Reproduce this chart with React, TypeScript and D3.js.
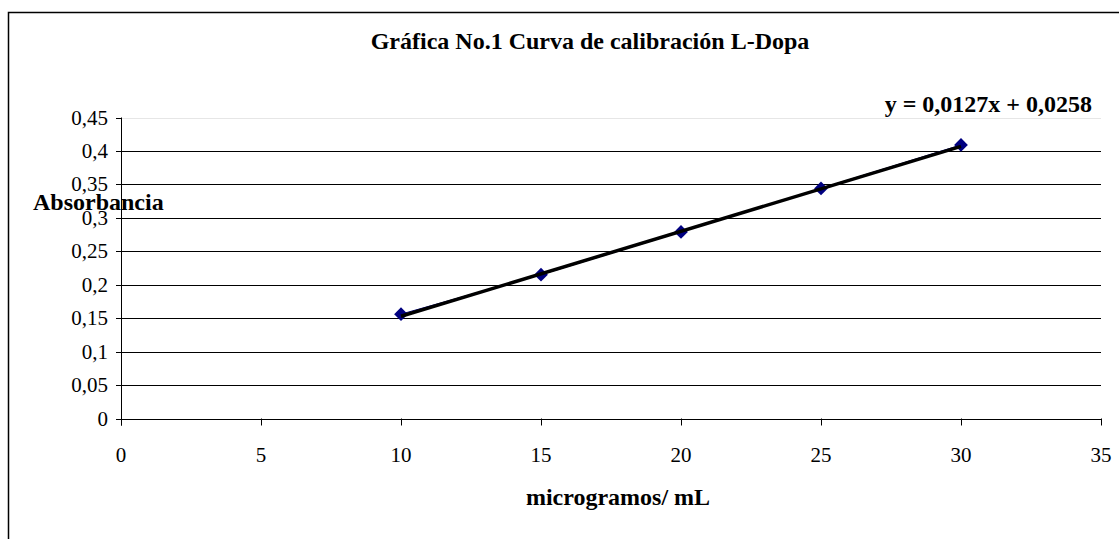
import React from "react";
import * as d3 from "d3";

const concentrations = [10, 15, 20, 25, 30];
const absorbances = [0.156, 0.215, 0.279, 0.344, 0.409];
const trendSlope = 0.0127;
const trendIntercept = 0.0258;
const xTicks = [0, 5, 10, 15, 20, 25, 30, 35];
const yTicks = [0, 0.05, 0.1, 0.15, 0.2, 0.25, 0.3, 0.35, 0.4, 0.45];
const titleText = "Gráfica No.1 Curva de calibración L-Dopa";
const xLabel = "microgramos/ mL";
const yLabel = "Absorbancia";
const equationText = "y = 0,0127x + 0,0258";

const W = 1119;
const H = 539;
const FONT = "'Liberation Serif', 'Times New Roman', serif";

export default function App() {
  const x = d3.scaleLinear().domain([0, 35]).range([121, 1101]);
  const y = d3.scaleLinear().domain([0, 0.45]).range([418.5, 117.5]);
  const fmt = (v: number) => String(+v.toFixed(2)).replace(".", ",");
  const pts = concentrations.map((c, i) => [x(c), y(absorbances[i])] as [number, number]);
  const line = d3.line();
  const xMin = d3.min(concentrations)!;
  const xMax = d3.max(concentrations)!;
  const trend: [number, number][] = [
    [x(xMin), y(trendSlope * xMin + trendIntercept)],
    [x(xMax), y(trendSlope * xMax + trendIntercept)],
  ];
  const diamond = d3.symbol().type(d3.symbolDiamond2).size(120)();

  return (
    <svg
      width={W}
      height={H}
      style={{ position: "absolute", left: 0, top: 0, background: "#fff" }}
      fontFamily={FONT}
    >
      <rect x={0} y={0} width={W} height={H} fill="#fff" />
      <rect x={8.5} y={12.5} width={1120} height={540} fill="none" stroke="#000" strokeWidth={1.5} />
      {/* gridlines */}
      {yTicks.map((t) => (
        <line
          key={"g" + t}
          x1={x(0)}
          x2={x(35)}
          y1={Math.round(y(t)) + 0.5}
          y2={Math.round(y(t)) + 0.5}
          stroke={t === 0.45 ? "#e6e6e6" : "#000"}
          strokeWidth={1}
        />
      ))}
      {/* y axis */}
      <line x1={x(0) + 0.5} x2={x(0) + 0.5} y1={y(0.45)} y2={y(0) + 7} stroke="#000" />
      {yTicks.map((t) => (
        <g key={"yt" + t}>
          <line x1={x(0) - 5} x2={x(0)} y1={Math.round(y(t)) + 0.5} y2={Math.round(y(t)) + 0.5} stroke="#000" />
          <text x={108} y={y(t) + 7} textAnchor="end" fontSize={21} fill="#000">
            {fmt(t)}
          </text>
        </g>
      ))}
      {/* x axis */}
      <line x1={x(0)} x2={x(35)} y1={Math.round(y(0)) + 0.5} y2={Math.round(y(0)) + 0.5} stroke="#000" />
      {xTicks.map((t) => (
        <g key={"xt" + t}>
          <line x1={Math.round(x(t)) + 0.5} x2={Math.round(x(t)) + 0.5} y1={y(0)} y2={y(0) + 7} stroke="#000" />
          <text x={x(t)} y={462} textAnchor="middle" fontSize={21} fill="#000">
            {t}
          </text>
        </g>
      ))}
      {/* series */}
      <path d={line(pts)!} fill="none" stroke="#000080" strokeWidth={1} />
      {pts.map((p, i) => (
        <path key={"p" + i} d={diamond!} transform={`translate(${p[0]},${p[1]})`} fill="#000080" />
      ))}
      <path d={line(trend)!} fill="none" stroke="#000" strokeWidth={3.5} />
      {/* texts */}
      <text x={590} y={49} textAnchor="middle" fontSize={24} fontWeight="bold" fill="#000">
        {titleText}
      </text>
      <text x={1092} y={112} textAnchor="end" fontSize={24} fontWeight="bold" fill="#000">
        {equationText}
      </text>
      <text x={33} y={210} fontSize={24} fontWeight="bold" fill="#000">
        {yLabel}
      </text>
      <text x={618} y={505} textAnchor="middle" fontSize={24} fontWeight="bold" fill="#000">
        {xLabel}
      </text>
    </svg>
  );
}
